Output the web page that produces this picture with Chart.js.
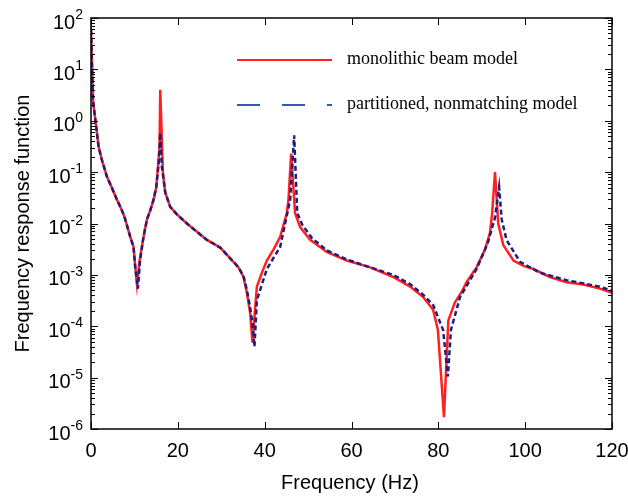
<!DOCTYPE html>
<html lang="en">
<head>
<meta charset="UTF-8">
<title>Frequency response function</title>
<script src="https://cdn.jsdelivr.net/npm/chart.js"></script>
<style>
    body { margin: 0; background: #fff; }
    #wrap { width: 628px; height: 499px; }
</style>
</head>
<body>
<div id="wrap"><canvas id="frf" width="628" height="499"></canvas></div>
<script>
// monolithic beam model (red, solid)
const monoFreq = [0, 0.46, 0.99, 1.75, 2.53, 3.68, 4.83, 5.98, 7.13, 7.89, 9.04, 9.8, 10.2, 10.59, 11.19, 12.1, 12.89, 13.65, 14.41, 15.03, 15.56, 15.79, 15.95, 16.57, 17.1, 18.25, 19.79, 22.09, 24.4, 26.7, 29.76, 32.06, 33.97, 35.12, 35.9, 36.66, 37.19, 38.2, 39.36, 40.5, 42.03, 43.57, 45.11, 45.48, 46.1, 47.0, 48.17, 50.47, 54.3, 58.9, 64.3, 69.6, 73.5, 76.5, 78.8, 79.9, 81.3, 82.3, 83.8, 85.4, 86.5, 88.8, 90.75, 91.9, 92.4, 93.05, 93.8, 94.96, 97.3, 99.6, 101.9, 105.7, 109.5, 113.4, 117.2, 120];
const monoVal = [63, 2.5, 1.05, 0.31, 0.17, 0.081, 0.049, 0.029, 0.018, 0.012, 0.0055, 0.0035, 0.0014, 6.5e-4, 0.0019, 0.0055, 0.012, 0.018, 0.029, 0.051, 0.17, 0.31, 4.0, 0.095, 0.040, 0.021, 0.015, 0.010, 0.0069, 0.0048, 0.0034, 0.0021, 0.0014, 9.1e-4, 4.5e-4, 1.8e-4, 4.8e-5, 5.9e-4, 0.0011, 0.0019, 0.0031, 0.0055, 0.016, 0.029, 0.23, 0.016, 0.0085, 0.0048, 0.0028, 0.0019, 0.0014, 9.1e-4, 5.9e-4, 3.7e-4, 2.1e-4, 8.5e-5, 1.7e-6, 1.3e-4, 2.9e-4, 4.7e-4, 7.2e-4, 0.0014, 0.0031, 0.0066, 0.016, 0.10, 0.010, 0.0038, 0.0019, 0.0015, 0.0013, 9.1e-4, 7.2e-4, 6.5e-4, 5.4e-4, 4.5e-4];

// partitioned, nonmatching model (blue, dashed)
const partFreq = [0, 0.46, 0.99, 1.75, 2.53, 3.68, 4.83, 5.98, 7.13, 7.89, 9.04, 9.8, 10.2, 10.8, 11.3, 12.1, 12.89, 13.65, 14.41, 15.03, 15.56, 15.95, 16.3, 16.57, 17.1, 18.25, 19.79, 22.09, 24.4, 26.7, 29.76, 32.06, 33.97, 35.12, 35.9, 36.66, 37.2, 37.65, 38.2, 40.5, 43.57, 45.87, 46.8, 47.5, 48.7, 50.9, 54.3, 58.9, 64.3, 69.6, 73.5, 76.5, 78.8, 81.1, 82.2, 82.9, 85.0, 88.8, 91.4, 93.05, 94.0, 94.6, 95.7, 98.8, 103.4, 109.5, 117.2, 120];
const partVal = [58, 2.5, 1.05, 0.31, 0.17, 0.081, 0.049, 0.029, 0.018, 0.012, 0.0055, 0.0035, 0.0014, 5.4e-4, 0.0019, 0.0055, 0.012, 0.018, 0.029, 0.051, 0.14, 0.58, 0.13, 0.09, 0.040, 0.021, 0.015, 0.010, 0.0069, 0.0048, 0.0034, 0.0021, 0.0014, 9.5e-4, 5.1e-4, 2.3e-4, 1.1e-4, 4.0e-5, 3.2e-4, 0.0013, 0.0035, 0.029, 0.52, 0.016, 0.0093, 0.0052, 0.0030, 0.0020, 0.0014, 0.0010, 6.6e-4, 4.1e-4, 2.6e-4, 8.5e-5, 1.05e-5, 8.5e-5, 3.7e-4, 0.0013, 0.0042, 0.013, 0.051, 0.012, 0.0048, 0.0018, 0.0011, 7.9e-4, 5.9e-4, 4.9e-4];

const xTicks = [0, 20, 40, 60, 80, 100, 120];
const yExponents = [2, 1, 0, -1, -2, -3, -4, -5, -6];
const seriesNames = ['monolithic beam model', 'partitioned, nonmatching model'];

const toPoints = (xs, ys) => xs.map((x, i) => ({ x: x, y: ys[i] }));

// frame, inward ticks, labels with superscript exponents, legend
const axesPlugin = {
    id: 'axesPlugin',
    afterDraw(chart) {
        const ctx = chart.ctx;
        const a = chart.chartArea;
        const xs = chart.scales.x, ys = chart.scales.y;
        ctx.save();
        ctx.strokeStyle = '#000';
        ctx.lineWidth = 1.5;
        ctx.strokeRect(a.left, a.top, a.right - a.left, a.bottom - a.top);

        ctx.lineWidth = 1;
        ctx.beginPath();
        xTicks.forEach(t => {
            const px = Math.round(xs.getPixelForValue(t)) + 0.5;
            ctx.moveTo(px, a.bottom); ctx.lineTo(px, a.bottom - 7);
            ctx.moveTo(px, a.top); ctx.lineTo(px, a.top + 7);
        });
        for (let e = -6; e <= 2; e++) {
            for (let m = 1; m <= 9; m++) {
                if (e === 2 && m > 1) break;
                const py = Math.round(ys.getPixelForValue(m * Math.pow(10, e))) + 0.5;
                const len = m === 1 ? 7 : 4;
                ctx.moveTo(a.left, py); ctx.lineTo(a.left + len, py);
                ctx.moveTo(a.right, py); ctx.lineTo(a.right - len, py);
            }
        }
        ctx.stroke();

        ctx.fillStyle = '#000';
        ctx.font = '20px "Liberation Sans", Arial, sans-serif';
        ctx.textAlign = 'center';
        ctx.textBaseline = 'middle';
        xTicks.forEach(t => ctx.fillText(String(t), xs.getPixelForValue(t), a.bottom + 22));

        yExponents.forEach(e => {
            const py = ys.getPixelForValue(Math.pow(10, e));
            const exp = String(e).replace('-', '-');
            ctx.font = '14px "Liberation Sans", Arial, sans-serif';
            const ew = ctx.measureText(exp).width;
            const right = a.left - 8;
            ctx.textAlign = 'left';
            ctx.textBaseline = 'alphabetic';
            ctx.fillText(exp, right - ew, py + 1);
            ctx.font = '20px "Liberation Sans", Arial, sans-serif';
            ctx.textAlign = 'right';
            ctx.textBaseline = 'middle';
            ctx.fillText('10', right - ew, py + 5);
        });

        ctx.textAlign = 'center';
        ctx.textBaseline = 'middle';
        ctx.fillText('Frequency (Hz)', 350, 483);
        ctx.translate(23, (a.top + a.bottom) / 2);
        ctx.rotate(-Math.PI / 2);
        ctx.fillText('Frequency response function', 0, 0);
        ctx.restore();

        // legend
        ctx.save();
        ctx.lineWidth = 2;
        ctx.strokeStyle = '#ff2020';
        ctx.beginPath(); ctx.moveTo(237, 60); ctx.lineTo(332, 60); ctx.stroke();
        ctx.strokeStyle = '#2a5cb8';
        ctx.setLineDash([23, 22]);
        ctx.beginPath(); ctx.moveTo(237, 105); ctx.lineTo(332, 105); ctx.stroke();
        ctx.setLineDash([]);
        ctx.fillStyle = '#000';
        ctx.font = '18px "Liberation Serif", "Times New Roman", serif';
        ctx.textAlign = 'left';
        ctx.textBaseline = 'middle';
        ctx.fillText(seriesNames[0], 347, 59);
        ctx.fillText(seriesNames[1], 347, 104);
        ctx.restore();
    }
};

new Chart(document.getElementById('frf'), {
    type: 'line',
    data: {
        datasets: [
            {
                label: seriesNames[1],
                data: toPoints(partFreq, partVal),
                borderColor: '#1e1e80',
                borderWidth: 2.5,
                borderDash: [5, 3],
                pointRadius: 0,
                tension: 0,
                order: 0
            },
            {
                label: seriesNames[0],
                data: toPoints(monoFreq, monoVal),
                borderColor: '#ff2020',
                borderWidth: 2.5,
                pointRadius: 0,
                tension: 0,
                order: 1
            }
        ]
    },
    options: {
        responsive: false,
        animation: false,
        layout: { padding: { left: 91, right: 16, top: 18, bottom: 70 } },
        plugins: { legend: { display: false }, tooltip: { enabled: false } },
        scales: {
            x: { type: 'linear', min: 0, max: 120, display: false },
            y: { type: 'logarithmic', min: 1e-6, max: 100, display: false }
        }
    },
    plugins: [axesPlugin]
});
</script>
</body>
</html>
